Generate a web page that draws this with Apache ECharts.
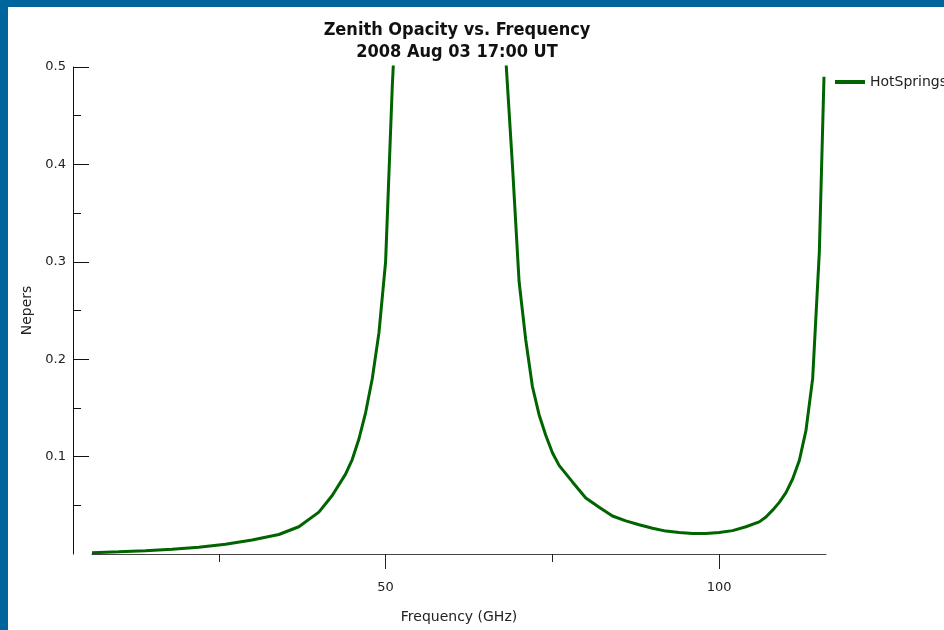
<!DOCTYPE html>
<html><head><meta charset="utf-8">
<script src="https://cdn.jsdelivr.net/npm/echarts@6/dist/echarts.min.js"></script>
<style>html,body{margin:0;padding:0;background:#fff}#c{width:944px;height:630px}</style>
</head><body><div id="c"></div>
<script>
const freqGHz = [6, 10, 14, 18, 22, 26, 30, 34, 37, 40, 42, 44, 45, 46, 47, 48, 49, 50, 51,
  52, 53, 54, 55, 56, 57, 58, 59, 60, 61, 62, 63, 64, 65, 66, 67,
  68, 69, 70, 71, 72, 73, 74, 75, 76, 78, 80, 82, 84, 86, 88, 90, 92, 94, 96, 98, 100,
  102, 104, 106, 107, 108, 109, 110, 111, 112, 113, 114, 115, 115.7];
const nepers = [0.0013, 0.0022, 0.0034, 0.005, 0.007, 0.010, 0.0144, 0.020, 0.028, 0.043, 0.060, 0.082, 0.097, 0.118, 0.145, 0.180, 0.227, 0.300, 0.480,
  0.62, 2.5, 6, 15, 40, 80, 120, 150, 160, 150, 120, 70, 30, 10, 3.5, 1.3,
  0.51, 0.40, 0.28, 0.22, 0.172, 0.143, 0.122, 0.104, 0.091, 0.074, 0.0575, 0.048, 0.039, 0.034, 0.030, 0.0265, 0.0235, 0.022, 0.021, 0.021, 0.022,
  0.024, 0.028, 0.033, 0.038, 0.045, 0.053, 0.063, 0.077, 0.096, 0.127, 0.180, 0.310, 0.490];
const yMajorTicks = [0.1, 0.2, 0.3, 0.4, 0.5];
const yMinorTicks = [0.05, 0.15, 0.25, 0.35, 0.45];
const xMajorTicks = [50, 100];
const xMinorTicks = [25, 75];
const seriesName = 'HotSprings';
const titleText = 'Zenith Opacity vs. Frequency\n2008 Aug 03 17:00 UT';

const FONT = 'DejaVu Sans';
const chart = echarts.init(document.getElementById('c'), null, {renderer: 'canvas'});
const green = '#006400';
chart.setOption({
  backgroundColor: '#ffffff',
  animation: false,
  graphic: [
    {type: 'rect', z: 100, shape: {x: 0, y: 0, width: 944, height: 7}, style: {fill: '#00659c'}},
    {type: 'rect', z: 100, shape: {x: 0, y: 0, width: 8, height: 630}, style: {fill: '#00659c'}}
  ],
  title: {
    text: titleText,
    left: 452, top: 14, textAlign: 'center',
    textStyle: {fontFamily: "'DejaVu Sans Condensed', 'DejaVu Sans'", fontWeight: 'bold', fontSize: 18, lineHeight: 22, color: '#111'}
  },
  legend: {
    data: [seriesName], left: 830, top: 70, icon: 'rect', itemWidth: 30, itemHeight: 4, itemGap: 5,
    textStyle: {fontFamily: FONT, fontSize: 14, color: '#222'}
  },
  grid: {left: 92, right: 118, top: 67, bottom: 76, containLabel: false},
  xAxis: [
    {
      type: 'value', min: 6, max: 116, position: 'bottom', offset: 4,
      name: 'Frequency (GHz)', nameLocation: 'middle', nameGap: 52,
      nameTextStyle: {fontFamily: FONT, fontSize: 14, color: '#222'},
      axisLine: {show: true, lineStyle: {color: '#444', width: 1}},
      axisTick: {show: true, customValues: xMajorTicks, length: 15, lineStyle: {color: '#222'}},
      axisLabel: {show: true, customValues: xMajorTicks, margin: 23, fontFamily: FONT, fontSize: 13, color: '#222'},
      splitLine: {show: false}
    },
    {
      type: 'value', min: 6, max: 116, position: 'bottom', offset: 4,
      axisLine: {show: false},
      axisTick: {show: true, customValues: xMinorTicks, length: 8, lineStyle: {color: '#222'}},
      axisLabel: {show: false},
      splitLine: {show: false}
    }
  ],
  yAxis: [
    {
      type: 'value', min: 0, max: 0.5, position: 'left', offset: 19,
      name: 'Nepers', nameLocation: 'middle', nameGap: 39, nameRotate: 90,
      nameTextStyle: {fontFamily: FONT, fontSize: 14, color: '#222'},
      axisLine: {show: true, lineStyle: {color: '#111', width: 1}},
      axisTick: {show: true, inside: true, customValues: yMajorTicks, length: 16, lineStyle: {color: '#111'}},
      axisLabel: {show: true, customValues: yMajorTicks, margin: 7, fontFamily: FONT, fontSize: 13, color: '#222',
        formatter: v => Number(v).toFixed(1)},
      splitLine: {show: false}
    },
    {
      type: 'value', min: 0, max: 0.5, position: 'left', offset: 19,
      axisLine: {show: false},
      axisTick: {show: true, inside: true, customValues: yMinorTicks, length: 8, lineStyle: {color: '#111'}},
      axisLabel: {show: false},
      splitLine: {show: false}
    }
  ],
  series: [{
    name: seriesName, type: 'line', xAxisIndex: 0, yAxisIndex: 0,
    data: freqGHz.map((f, i) => [f, nepers[i]]),
    showSymbol: false, smooth: false, clip: true,
    lineStyle: {color: green, width: 3},
    itemStyle: {color: green}
  }]
});
</script>
</body></html>
